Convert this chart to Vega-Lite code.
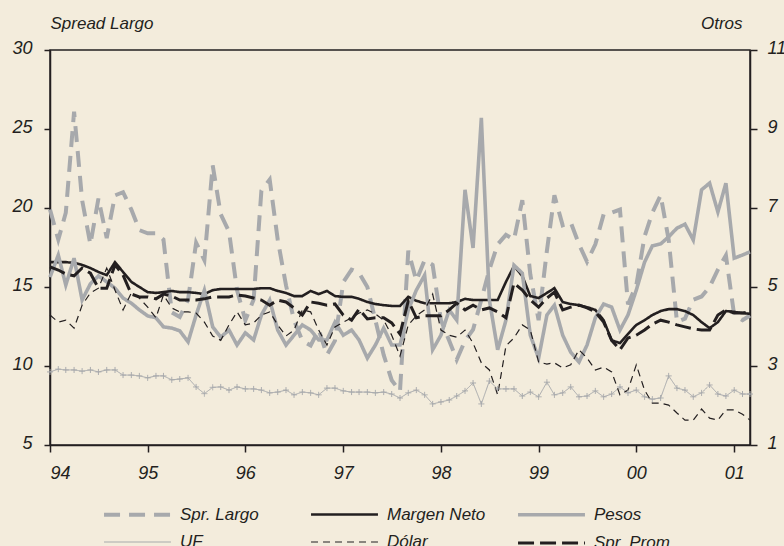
{
"$schema":"https://vega.github.io/schema/vega-lite/v6.json",
"width":700,"height":395,
"autosize":{"type":"none"},
"padding":{"left":50,"top":50,"right":34,"bottom":101},
"background":"#f3ecdc",
"config":{
 "view":{"stroke":"#231f20","strokeWidth":1.5},
 "font":"Liberation Sans",
 "axis":{"labelFont":"Liberation Sans","labelFontStyle":"italic","labelFontSize":18,"labelColor":"#231f20","domainColor":"#231f20","tickColor":"#231f20","domainWidth":1.5,"tickWidth":1.5,"grid":false,"titleFont":"Liberation Sans","titleFontStyle":"italic","titleFontWeight":"normal","titleFontSize":17,"titleColor":"#231f20"},
 "legend":{"orient":"none","direction":"horizontal","legendX":77,"legendY":454,"columns":3,"gridAlign":"all","columnPadding":24,"rowPadding":10,"symbolType":"M-4,0H4","symbolSize":280,"labelFont":"Liberation Sans","labelFontStyle":"italic","labelFontSize":17,"labelColor":"#231f20","labelOffset":32}
},
"data":{"values":[
{"d":"1994-01","s":"Spr. Largo","v":19.9},{"d":"1994-02","s":"Spr. Largo","v":18.0},{"d":"1994-03","s":"Spr. Largo","v":19.7},{"d":"1994-04","s":"Spr. Largo","v":26.1},{"d":"1994-05","s":"Spr. Largo","v":20.5},{"d":"1994-06","s":"Spr. Largo","v":17.7},{"d":"1994-07","s":"Spr. Largo","v":20.6},{"d":"1994-08","s":"Spr. Largo","v":18.1},{"d":"1994-09","s":"Spr. Largo","v":20.8},{"d":"1994-10","s":"Spr. Largo","v":21.0},{"d":"1994-11","s":"Spr. Largo","v":19.9},{"d":"1994-12","s":"Spr. Largo","v":18.6},
{"d":"1995-01","s":"Spr. Largo","v":18.4},{"d":"1995-02","s":"Spr. Largo","v":18.4},{"d":"1995-03","s":"Spr. Largo","v":18.0},{"d":"1995-04","s":"Spr. Largo","v":13.4},{"d":"1995-05","s":"Spr. Largo","v":13.1},{"d":"1995-06","s":"Spr. Largo","v":14.2},{"d":"1995-07","s":"Spr. Largo","v":17.8},{"d":"1995-08","s":"Spr. Largo","v":16.7},{"d":"1995-09","s":"Spr. Largo","v":22.7},{"d":"1995-10","s":"Spr. Largo","v":19.6},{"d":"1995-11","s":"Spr. Largo","v":18.5},{"d":"1995-12","s":"Spr. Largo","v":14.8},
{"d":"1996-01","s":"Spr. Largo","v":12.9},{"d":"1996-02","s":"Spr. Largo","v":14.2},{"d":"1996-03","s":"Spr. Largo","v":21.1},{"d":"1996-04","s":"Spr. Largo","v":21.8},{"d":"1996-05","s":"Spr. Largo","v":18.0},{"d":"1996-06","s":"Spr. Largo","v":15.1},{"d":"1996-07","s":"Spr. Largo","v":12.9},{"d":"1996-08","s":"Spr. Largo","v":11.6},{"d":"1996-09","s":"Spr. Largo","v":11.3},{"d":"1996-10","s":"Spr. Largo","v":12.3},{"d":"1996-11","s":"Spr. Largo","v":10.7},{"d":"1996-12","s":"Spr. Largo","v":11.6},
{"d":"1997-01","s":"Spr. Largo","v":15.3},{"d":"1997-02","s":"Spr. Largo","v":16.1},{"d":"1997-03","s":"Spr. Largo","v":15.9},{"d":"1997-04","s":"Spr. Largo","v":15.0},{"d":"1997-05","s":"Spr. Largo","v":12.9},{"d":"1997-06","s":"Spr. Largo","v":10.7},{"d":"1997-07","s":"Spr. Largo","v":9.1},{"d":"1997-08","s":"Spr. Largo","v":8.4},{"d":"1997-09","s":"Spr. Largo","v":17.3},{"d":"1997-10","s":"Spr. Largo","v":15.4},{"d":"1997-11","s":"Spr. Largo","v":16.7},{"d":"1997-12","s":"Spr. Largo","v":16.4},
{"d":"1998-01","s":"Spr. Largo","v":12.9},{"d":"1998-02","s":"Spr. Largo","v":11.6},{"d":"1998-03","s":"Spr. Largo","v":10.4},{"d":"1998-04","s":"Spr. Largo","v":11.6},{"d":"1998-05","s":"Spr. Largo","v":12.3},{"d":"1998-06","s":"Spr. Largo","v":14.2},{"d":"1998-07","s":"Spr. Largo","v":16.1},{"d":"1998-08","s":"Spr. Largo","v":17.7},{"d":"1998-09","s":"Spr. Largo","v":18.3},{"d":"1998-10","s":"Spr. Largo","v":18.0},{"d":"1998-11","s":"Spr. Largo","v":20.5},{"d":"1998-12","s":"Spr. Largo","v":15.8},
{"d":"1999-01","s":"Spr. Largo","v":12.9},{"d":"1999-02","s":"Spr. Largo","v":17.3},{"d":"1999-03","s":"Spr. Largo","v":20.8},{"d":"1999-04","s":"Spr. Largo","v":18.9},{"d":"1999-05","s":"Spr. Largo","v":19.1},{"d":"1999-06","s":"Spr. Largo","v":17.7},{"d":"1999-07","s":"Spr. Largo","v":16.6},{"d":"1999-08","s":"Spr. Largo","v":17.7},{"d":"1999-09","s":"Spr. Largo","v":19.6},{"d":"1999-10","s":"Spr. Largo","v":19.7},{"d":"1999-11","s":"Spr. Largo","v":19.9},{"d":"1999-12","s":"Spr. Largo","v":13.9},
{"d":"2000-01","s":"Spr. Largo","v":15.1},{"d":"2000-02","s":"Spr. Largo","v":18.2},{"d":"2000-03","s":"Spr. Largo","v":19.7},{"d":"2000-04","s":"Spr. Largo","v":20.8},{"d":"2000-05","s":"Spr. Largo","v":18.0},{"d":"2000-06","s":"Spr. Largo","v":12.8},{"d":"2000-07","s":"Spr. Largo","v":13.0},{"d":"2000-08","s":"Spr. Largo","v":14.2},{"d":"2000-09","s":"Spr. Largo","v":14.4},{"d":"2000-10","s":"Spr. Largo","v":15.0},{"d":"2000-11","s":"Spr. Largo","v":16.1},{"d":"2000-12","s":"Spr. Largo","v":17.0},
{"d":"2001-01","s":"Spr. Largo","v":13.2},{"d":"2001-02","s":"Spr. Largo","v":12.9},{"d":"2001-03","s":"Spr. Largo","v":13.2},
{"d":"1994-01","s":"Margen Neto","v":5.63},{"d":"1994-02","s":"Margen Neto","v":5.63},{"d":"1994-03","s":"Margen Neto","v":5.63},{"d":"1994-04","s":"Margen Neto","v":5.61},{"d":"1994-05","s":"Margen Neto","v":5.56},{"d":"1994-06","s":"Margen Neto","v":5.48},{"d":"1994-07","s":"Margen Neto","v":5.38},{"d":"1994-08","s":"Margen Neto","v":5.30},{"d":"1994-09","s":"Margen Neto","v":5.63},{"d":"1994-10","s":"Margen Neto","v":5.38},{"d":"1994-11","s":"Margen Neto","v":5.13},{"d":"1994-12","s":"Margen Neto","v":5.00},
{"d":"1995-01","s":"Margen Neto","v":4.87},{"d":"1995-02","s":"Margen Neto","v":4.85},{"d":"1995-03","s":"Margen Neto","v":4.87},{"d":"1995-04","s":"Margen Neto","v":4.90},{"d":"1995-05","s":"Margen Neto","v":4.87},{"d":"1995-06","s":"Margen Neto","v":4.87},{"d":"1995-07","s":"Margen Neto","v":4.85},{"d":"1995-08","s":"Margen Neto","v":4.82},{"d":"1995-09","s":"Margen Neto","v":4.92},{"d":"1995-10","s":"Margen Neto","v":4.95},{"d":"1995-11","s":"Margen Neto","v":4.95},{"d":"1995-12","s":"Margen Neto","v":4.95},
{"d":"1996-01","s":"Margen Neto","v":4.95},{"d":"1996-02","s":"Margen Neto","v":4.95},{"d":"1996-03","s":"Margen Neto","v":4.97},{"d":"1996-04","s":"Margen Neto","v":4.97},{"d":"1996-05","s":"Margen Neto","v":4.90},{"d":"1996-06","s":"Margen Neto","v":4.85},{"d":"1996-07","s":"Margen Neto","v":4.77},{"d":"1996-08","s":"Margen Neto","v":4.77},{"d":"1996-09","s":"Margen Neto","v":4.90},{"d":"1996-10","s":"Margen Neto","v":4.82},{"d":"1996-11","s":"Margen Neto","v":4.90},{"d":"1996-12","s":"Margen Neto","v":4.77},
{"d":"1997-01","s":"Margen Neto","v":4.75},{"d":"1997-02","s":"Margen Neto","v":4.75},{"d":"1997-03","s":"Margen Neto","v":4.70},{"d":"1997-04","s":"Margen Neto","v":4.62},{"d":"1997-05","s":"Margen Neto","v":4.57},{"d":"1997-06","s":"Margen Neto","v":4.54},{"d":"1997-07","s":"Margen Neto","v":4.52},{"d":"1997-08","s":"Margen Neto","v":4.52},{"d":"1997-09","s":"Margen Neto","v":4.75},{"d":"1997-10","s":"Margen Neto","v":4.65},{"d":"1997-11","s":"Margen Neto","v":4.59},{"d":"1997-12","s":"Margen Neto","v":4.59},
{"d":"1998-01","s":"Margen Neto","v":4.59},{"d":"1998-02","s":"Margen Neto","v":4.59},{"d":"1998-03","s":"Margen Neto","v":4.62},{"d":"1998-04","s":"Margen Neto","v":4.70},{"d":"1998-05","s":"Margen Neto","v":4.67},{"d":"1998-06","s":"Margen Neto","v":4.67},{"d":"1998-07","s":"Margen Neto","v":4.67},{"d":"1998-08","s":"Margen Neto","v":4.67},{"d":"1998-09","s":"Margen Neto","v":5.13},{"d":"1998-10","s":"Margen Neto","v":5.53},{"d":"1998-11","s":"Margen Neto","v":5.28},{"d":"1998-12","s":"Margen Neto","v":4.77},
{"d":"1999-01","s":"Margen Neto","v":4.72},{"d":"1999-02","s":"Margen Neto","v":4.85},{"d":"1999-03","s":"Margen Neto","v":4.97},{"d":"1999-04","s":"Margen Neto","v":4.62},{"d":"1999-05","s":"Margen Neto","v":4.57},{"d":"1999-06","s":"Margen Neto","v":4.54},{"d":"1999-07","s":"Margen Neto","v":4.49},{"d":"1999-08","s":"Margen Neto","v":4.42},{"d":"1999-09","s":"Margen Neto","v":4.16},{"d":"1999-10","s":"Margen Neto","v":3.65},{"d":"1999-11","s":"Margen Neto","v":3.58},{"d":"1999-12","s":"Margen Neto","v":3.81},
{"d":"2000-01","s":"Margen Neto","v":4.04},{"d":"2000-02","s":"Margen Neto","v":4.16},{"d":"2000-03","s":"Margen Neto","v":4.29},{"d":"2000-04","s":"Margen Neto","v":4.39},{"d":"2000-05","s":"Margen Neto","v":4.44},{"d":"2000-06","s":"Margen Neto","v":4.44},{"d":"2000-07","s":"Margen Neto","v":4.39},{"d":"2000-08","s":"Margen Neto","v":4.29},{"d":"2000-09","s":"Margen Neto","v":4.11},{"d":"2000-10","s":"Margen Neto","v":3.96},{"d":"2000-11","s":"Margen Neto","v":4.11},{"d":"2000-12","s":"Margen Neto","v":4.39},
{"d":"2001-01","s":"Margen Neto","v":4.37},{"d":"2001-02","s":"Margen Neto","v":4.34},{"d":"2001-03","s":"Margen Neto","v":4.32},
{"d":"1994-01","s":"Pesos","v":5.25},{"d":"1994-02","s":"Pesos","v":5.81},{"d":"1994-03","s":"Pesos","v":5.05},{"d":"1994-04","s":"Pesos","v":5.73},{"d":"1994-05","s":"Pesos","v":4.67},{"d":"1994-06","s":"Pesos","v":5.08},{"d":"1994-07","s":"Pesos","v":5.28},{"d":"1994-08","s":"Pesos","v":5.13},{"d":"1994-09","s":"Pesos","v":4.97},{"d":"1994-10","s":"Pesos","v":4.72},{"d":"1994-11","s":"Pesos","v":4.59},{"d":"1994-12","s":"Pesos","v":4.42},
{"d":"1995-01","s":"Pesos","v":4.27},{"d":"1995-02","s":"Pesos","v":4.22},{"d":"1995-03","s":"Pesos","v":3.99},{"d":"1995-04","s":"Pesos","v":3.96},{"d":"1995-05","s":"Pesos","v":3.89},{"d":"1995-06","s":"Pesos","v":3.61},{"d":"1995-07","s":"Pesos","v":4.29},{"d":"1995-08","s":"Pesos","v":4.92},{"d":"1995-09","s":"Pesos","v":3.99},{"d":"1995-10","s":"Pesos","v":3.73},{"d":"1995-11","s":"Pesos","v":3.91},{"d":"1995-12","s":"Pesos","v":3.53},
{"d":"1996-01","s":"Pesos","v":3.84},{"d":"1996-02","s":"Pesos","v":3.66},{"d":"1996-03","s":"Pesos","v":4.29},{"d":"1996-04","s":"Pesos","v":4.67},{"d":"1996-05","s":"Pesos","v":3.91},{"d":"1996-06","s":"Pesos","v":3.53},{"d":"1996-07","s":"Pesos","v":3.78},{"d":"1996-08","s":"Pesos","v":4.04},{"d":"1996-09","s":"Pesos","v":3.91},{"d":"1996-10","s":"Pesos","v":3.66},{"d":"1996-11","s":"Pesos","v":3.66},{"d":"1996-12","s":"Pesos","v":4.11},
{"d":"1997-01","s":"Pesos","v":3.78},{"d":"1997-02","s":"Pesos","v":3.91},{"d":"1997-03","s":"Pesos","v":3.66},{"d":"1997-04","s":"Pesos","v":3.20},{"d":"1997-05","s":"Pesos","v":3.53},{"d":"1997-06","s":"Pesos","v":3.96},{"d":"1997-07","s":"Pesos","v":3.53},{"d":"1997-08","s":"Pesos","v":3.53},{"d":"1997-09","s":"Pesos","v":4.42},{"d":"1997-10","s":"Pesos","v":4.92},{"d":"1997-11","s":"Pesos","v":5.30},{"d":"1997-12","s":"Pesos","v":3.41},
{"d":"1998-01","s":"Pesos","v":3.78},{"d":"1998-02","s":"Pesos","v":4.42},{"d":"1998-03","s":"Pesos","v":4.16},{"d":"1998-04","s":"Pesos","v":7.46},{"d":"1998-05","s":"Pesos","v":5.99},{"d":"1998-06","s":"Pesos","v":9.28},{"d":"1998-07","s":"Pesos","v":4.67},{"d":"1998-08","s":"Pesos","v":3.41},{"d":"1998-09","s":"Pesos","v":4.16},{"d":"1998-10","s":"Pesos","v":5.55},{"d":"1998-11","s":"Pesos","v":5.35},{"d":"1998-12","s":"Pesos","v":3.78},
{"d":"1999-01","s":"Pesos","v":3.20},{"d":"1999-02","s":"Pesos","v":4.29},{"d":"1999-03","s":"Pesos","v":4.54},{"d":"1999-04","s":"Pesos","v":3.78},{"d":"1999-05","s":"Pesos","v":3.35},{"d":"1999-06","s":"Pesos","v":3.10},{"d":"1999-07","s":"Pesos","v":3.53},{"d":"1999-08","s":"Pesos","v":4.22},{"d":"1999-09","s":"Pesos","v":4.57},{"d":"1999-10","s":"Pesos","v":4.49},{"d":"1999-11","s":"Pesos","v":3.91},{"d":"1999-12","s":"Pesos","v":4.29},
{"d":"2000-01","s":"Pesos","v":4.92},{"d":"2000-02","s":"Pesos","v":5.63},{"d":"2000-03","s":"Pesos","v":6.04},{"d":"2000-04","s":"Pesos","v":6.09},{"d":"2000-05","s":"Pesos","v":6.27},{"d":"2000-06","s":"Pesos","v":6.49},{"d":"2000-07","s":"Pesos","v":6.59},{"d":"2000-08","s":"Pesos","v":6.19},{"d":"2000-09","s":"Pesos","v":7.46},{"d":"2000-10","s":"Pesos","v":7.63},{"d":"2000-11","s":"Pesos","v":6.90},{"d":"2000-12","s":"Pesos","v":7.63},
{"d":"2001-01","s":"Pesos","v":5.73},{"d":"2001-02","s":"Pesos","v":5.81},{"d":"2001-03","s":"Pesos","v":5.89},
{"d":"1994-01","s":"UF","v":2.85},{"d":"1994-02","s":"UF","v":2.92},{"d":"1994-03","s":"UF","v":2.90},{"d":"1994-04","s":"UF","v":2.90},{"d":"1994-05","s":"UF","v":2.87},{"d":"1994-06","s":"UF","v":2.90},{"d":"1994-07","s":"UF","v":2.85},{"d":"1994-08","s":"UF","v":2.90},{"d":"1994-09","s":"UF","v":2.90},{"d":"1994-10","s":"UF","v":2.77},{"d":"1994-11","s":"UF","v":2.77},{"d":"1994-12","s":"UF","v":2.75},
{"d":"1995-01","s":"UF","v":2.70},{"d":"1995-02","s":"UF","v":2.75},{"d":"1995-03","s":"UF","v":2.75},{"d":"1995-04","s":"UF","v":2.65},{"d":"1995-05","s":"UF","v":2.67},{"d":"1995-06","s":"UF","v":2.70},{"d":"1995-07","s":"UF","v":2.47},{"d":"1995-08","s":"UF","v":2.30},{"d":"1995-09","s":"UF","v":2.46},{"d":"1995-10","s":"UF","v":2.47},{"d":"1995-11","s":"UF","v":2.39},{"d":"1995-12","s":"UF","v":2.47},
{"d":"1996-01","s":"UF","v":2.42},{"d":"1996-02","s":"UF","v":2.42},{"d":"1996-03","s":"UF","v":2.39},{"d":"1996-04","s":"UF","v":2.32},{"d":"1996-05","s":"UF","v":2.34},{"d":"1996-06","s":"UF","v":2.39},{"d":"1996-07","s":"UF","v":2.27},{"d":"1996-08","s":"UF","v":2.34},{"d":"1996-09","s":"UF","v":2.32},{"d":"1996-10","s":"UF","v":2.27},{"d":"1996-11","s":"UF","v":2.44},{"d":"1996-12","s":"UF","v":2.44},
{"d":"1997-01","s":"UF","v":2.37},{"d":"1997-02","s":"UF","v":2.34},{"d":"1997-03","s":"UF","v":2.34},{"d":"1997-04","s":"UF","v":2.34},{"d":"1997-05","s":"UF","v":2.32},{"d":"1997-06","s":"UF","v":2.34},{"d":"1997-07","s":"UF","v":2.29},{"d":"1997-08","s":"UF","v":2.19},{"d":"1997-09","s":"UF","v":2.32},{"d":"1997-10","s":"UF","v":2.39},{"d":"1997-11","s":"UF","v":2.27},{"d":"1997-12","s":"UF","v":2.04},
{"d":"1998-01","s":"UF","v":2.09},{"d":"1998-02","s":"UF","v":2.14},{"d":"1998-03","s":"UF","v":2.24},{"d":"1998-04","s":"UF","v":2.37},{"d":"1998-05","s":"UF","v":2.57},{"d":"1998-06","s":"UF","v":2.04},{"d":"1998-07","s":"UF","v":2.62},{"d":"1998-08","s":"UF","v":2.42},{"d":"1998-09","s":"UF","v":2.42},{"d":"1998-10","s":"UF","v":2.42},{"d":"1998-11","s":"UF","v":2.24},{"d":"1998-12","s":"UF","v":2.34},
{"d":"1999-01","s":"UF","v":2.22},{"d":"1999-02","s":"UF","v":2.59},{"d":"1999-03","s":"UF","v":2.27},{"d":"1999-04","s":"UF","v":2.32},{"d":"1999-05","s":"UF","v":2.47},{"d":"1999-06","s":"UF","v":2.22},{"d":"1999-07","s":"UF","v":2.24},{"d":"1999-08","s":"UF","v":2.37},{"d":"1999-09","s":"UF","v":2.22},{"d":"1999-10","s":"UF","v":2.29},{"d":"1999-11","s":"UF","v":2.47},{"d":"1999-12","s":"UF","v":2.32},
{"d":"2000-01","s":"UF","v":2.39},{"d":"2000-02","s":"UF","v":2.22},{"d":"2000-03","s":"UF","v":2.16},{"d":"2000-04","s":"UF","v":2.19},{"d":"2000-05","s":"UF","v":2.75},{"d":"2000-06","s":"UF","v":2.44},{"d":"2000-07","s":"UF","v":2.39},{"d":"2000-08","s":"UF","v":2.22},{"d":"2000-09","s":"UF","v":2.32},{"d":"2000-10","s":"UF","v":2.52},{"d":"2000-11","s":"UF","v":2.29},{"d":"2000-12","s":"UF","v":2.24},
{"d":"2001-01","s":"UF","v":2.39},{"d":"2001-02","s":"UF","v":2.29},{"d":"2001-03","s":"UF","v":2.29},
{"d":"1994-01","s":"Dólar","v":4.29},{"d":"1994-02","s":"Dólar","v":4.11},{"d":"1994-03","s":"Dólar","v":4.16},{"d":"1994-04","s":"Dólar","v":3.96},{"d":"1994-05","s":"Dólar","v":4.54},{"d":"1994-06","s":"Dólar","v":4.85},{"d":"1994-07","s":"Dólar","v":4.97},{"d":"1994-08","s":"Dólar","v":5.48},{"d":"1994-09","s":"Dólar","v":4.92},{"d":"1994-10","s":"Dólar","v":4.42},{"d":"1994-11","s":"Dólar","v":4.85},{"d":"1994-12","s":"Dólar","v":4.72},
{"d":"1995-01","s":"Dólar","v":4.49},{"d":"1995-02","s":"Dólar","v":4.22},{"d":"1995-03","s":"Dólar","v":4.80},{"d":"1995-04","s":"Dólar","v":4.47},{"d":"1995-05","s":"Dólar","v":4.37},{"d":"1995-06","s":"Dólar","v":4.37},{"d":"1995-07","s":"Dólar","v":4.34},{"d":"1995-08","s":"Dólar","v":4.11},{"d":"1995-09","s":"Dólar","v":3.76},{"d":"1995-10","s":"Dólar","v":3.65},{"d":"1995-11","s":"Dólar","v":4.04},{"d":"1995-12","s":"Dólar","v":4.37},
{"d":"1996-01","s":"Dólar","v":4.04},{"d":"1996-02","s":"Dólar","v":4.09},{"d":"1996-03","s":"Dólar","v":4.29},{"d":"1996-04","s":"Dólar","v":4.37},{"d":"1996-05","s":"Dólar","v":4.04},{"d":"1996-06","s":"Dólar","v":3.76},{"d":"1996-07","s":"Dólar","v":3.91},{"d":"1996-08","s":"Dólar","v":4.42},{"d":"1996-09","s":"Dólar","v":4.37},{"d":"1996-10","s":"Dólar","v":3.91},{"d":"1996-11","s":"Dólar","v":3.53},{"d":"1996-12","s":"Dólar","v":3.99},
{"d":"1997-01","s":"Dólar","v":4.11},{"d":"1997-02","s":"Dólar","v":4.22},{"d":"1997-03","s":"Dólar","v":4.34},{"d":"1997-04","s":"Dólar","v":4.42},{"d":"1997-05","s":"Dólar","v":4.32},{"d":"1997-06","s":"Dólar","v":4.16},{"d":"1997-07","s":"Dólar","v":3.78},{"d":"1997-08","s":"Dólar","v":3.25},{"d":"1997-09","s":"Dólar","v":4.04},{"d":"1997-10","s":"Dólar","v":4.27},{"d":"1997-11","s":"Dólar","v":4.42},{"d":"1997-12","s":"Dólar","v":4.82},
{"d":"1998-01","s":"Dólar","v":3.91},{"d":"1998-02","s":"Dólar","v":3.78},{"d":"1998-03","s":"Dólar","v":3.73},{"d":"1998-04","s":"Dólar","v":3.91},{"d":"1998-05","s":"Dólar","v":3.58},{"d":"1998-06","s":"Dólar","v":3.08},{"d":"1998-07","s":"Dólar","v":2.90},{"d":"1998-08","s":"Dólar","v":2.27},{"d":"1998-09","s":"Dólar","v":3.51},{"d":"1998-10","s":"Dólar","v":3.71},{"d":"1998-11","s":"Dólar","v":4.04},{"d":"1998-12","s":"Dólar","v":3.91},
{"d":"1999-01","s":"Dólar","v":3.10},{"d":"1999-02","s":"Dólar","v":3.05},{"d":"1999-03","s":"Dólar","v":3.08},{"d":"1999-04","s":"Dólar","v":2.95},{"d":"1999-05","s":"Dólar","v":3.03},{"d":"1999-06","s":"Dólar","v":3.41},{"d":"1999-07","s":"Dólar","v":3.20},{"d":"1999-08","s":"Dólar","v":2.90},{"d":"1999-09","s":"Dólar","v":2.97},{"d":"1999-10","s":"Dólar","v":2.85},{"d":"1999-11","s":"Dólar","v":2.27},{"d":"1999-12","s":"Dólar","v":2.39},
{"d":"2000-01","s":"Dólar","v":3.03},{"d":"2000-02","s":"Dólar","v":2.39},{"d":"2000-03","s":"Dólar","v":2.06},{"d":"2000-04","s":"Dólar","v":2.06},{"d":"2000-05","s":"Dólar","v":2.01},{"d":"2000-06","s":"Dólar","v":1.81},{"d":"2000-07","s":"Dólar","v":1.63},{"d":"2000-08","s":"Dólar","v":1.63},{"d":"2000-09","s":"Dólar","v":1.91},{"d":"2000-10","s":"Dólar","v":1.68},{"d":"2000-11","s":"Dólar","v":1.63},{"d":"2000-12","s":"Dólar","v":1.89},
{"d":"2001-01","s":"Dólar","v":1.89},{"d":"2001-02","s":"Dólar","v":1.78},{"d":"2001-03","s":"Dólar","v":1.63},
{"d":"1994-01","s":"Spr. Prom.","v":5.51},{"d":"1994-02","s":"Spr. Prom.","v":5.43},{"d":"1994-03","s":"Spr. Prom.","v":5.33},{"d":"1994-04","s":"Spr. Prom.","v":5.28},{"d":"1994-05","s":"Spr. Prom.","v":5.48},{"d":"1994-06","s":"Spr. Prom.","v":5.35},{"d":"1994-07","s":"Spr. Prom.","v":4.97},{"d":"1994-08","s":"Spr. Prom.","v":4.97},{"d":"1994-09","s":"Spr. Prom.","v":5.56},{"d":"1994-10","s":"Spr. Prom.","v":5.30},{"d":"1994-11","s":"Spr. Prom.","v":4.82},{"d":"1994-12","s":"Spr. Prom.","v":4.75},
{"d":"1995-01","s":"Spr. Prom.","v":4.75},{"d":"1995-02","s":"Spr. Prom.","v":4.70},{"d":"1995-03","s":"Spr. Prom.","v":4.82},{"d":"1995-04","s":"Spr. Prom.","v":4.77},{"d":"1995-05","s":"Spr. Prom.","v":4.67},{"d":"1995-06","s":"Spr. Prom.","v":4.67},{"d":"1995-07","s":"Spr. Prom.","v":4.67},{"d":"1995-08","s":"Spr. Prom.","v":4.70},{"d":"1995-09","s":"Spr. Prom.","v":4.75},{"d":"1995-10","s":"Spr. Prom.","v":4.75},{"d":"1995-11","s":"Spr. Prom.","v":4.75},{"d":"1995-12","s":"Spr. Prom.","v":4.80},
{"d":"1996-01","s":"Spr. Prom.","v":4.77},{"d":"1996-02","s":"Spr. Prom.","v":4.72},{"d":"1996-03","s":"Spr. Prom.","v":4.67},{"d":"1996-04","s":"Spr. Prom.","v":4.54},{"d":"1996-05","s":"Spr. Prom.","v":4.67},{"d":"1996-06","s":"Spr. Prom.","v":4.62},{"d":"1996-07","s":"Spr. Prom.","v":4.47},{"d":"1996-08","s":"Spr. Prom.","v":4.29},{"d":"1996-09","s":"Spr. Prom.","v":4.62},{"d":"1996-10","s":"Spr. Prom.","v":4.59},{"d":"1996-11","s":"Spr. Prom.","v":4.54},{"d":"1996-12","s":"Spr. Prom.","v":4.57},
{"d":"1997-01","s":"Spr. Prom.","v":4.29},{"d":"1997-02","s":"Spr. Prom.","v":4.16},{"d":"1997-03","s":"Spr. Prom.","v":4.44},{"d":"1997-04","s":"Spr. Prom.","v":4.19},{"d":"1997-05","s":"Spr. Prom.","v":4.22},{"d":"1997-06","s":"Spr. Prom.","v":4.22},{"d":"1997-07","s":"Spr. Prom.","v":4.09},{"d":"1997-08","s":"Spr. Prom.","v":3.81},{"d":"1997-09","s":"Spr. Prom.","v":4.65},{"d":"1997-10","s":"Spr. Prom.","v":4.22},{"d":"1997-11","s":"Spr. Prom.","v":4.27},{"d":"1997-12","s":"Spr. Prom.","v":4.27},
{"d":"1998-01","s":"Spr. Prom.","v":4.27},{"d":"1998-02","s":"Spr. Prom.","v":4.42},{"d":"1998-03","s":"Spr. Prom.","v":4.59},{"d":"1998-04","s":"Spr. Prom.","v":4.42},{"d":"1998-05","s":"Spr. Prom.","v":4.54},{"d":"1998-06","s":"Spr. Prom.","v":4.42},{"d":"1998-07","s":"Spr. Prom.","v":4.47},{"d":"1998-08","s":"Spr. Prom.","v":4.37},{"d":"1998-09","s":"Spr. Prom.","v":4.22},{"d":"1998-10","s":"Spr. Prom.","v":5.10},{"d":"1998-11","s":"Spr. Prom.","v":4.92},{"d":"1998-12","s":"Spr. Prom.","v":4.67},
{"d":"1999-01","s":"Spr. Prom.","v":4.49},{"d":"1999-02","s":"Spr. Prom.","v":4.72},{"d":"1999-03","s":"Spr. Prom.","v":4.87},{"d":"1999-04","s":"Spr. Prom.","v":4.42},{"d":"1999-05","s":"Spr. Prom.","v":4.49},{"d":"1999-06","s":"Spr. Prom.","v":4.54},{"d":"1999-07","s":"Spr. Prom.","v":4.47},{"d":"1999-08","s":"Spr. Prom.","v":4.37},{"d":"1999-09","s":"Spr. Prom.","v":4.11},{"d":"1999-10","s":"Spr. Prom.","v":3.65},{"d":"1999-11","s":"Spr. Prom.","v":3.41},{"d":"1999-12","s":"Spr. Prom.","v":3.71},
{"d":"2000-01","s":"Spr. Prom.","v":3.78},{"d":"2000-02","s":"Spr. Prom.","v":3.91},{"d":"2000-03","s":"Spr. Prom.","v":4.06},{"d":"2000-04","s":"Spr. Prom.","v":4.16},{"d":"2000-05","s":"Spr. Prom.","v":4.11},{"d":"2000-06","s":"Spr. Prom.","v":4.04},{"d":"2000-07","s":"Spr. Prom.","v":3.99},{"d":"2000-08","s":"Spr. Prom.","v":3.94},{"d":"2000-09","s":"Spr. Prom.","v":3.91},{"d":"2000-10","s":"Spr. Prom.","v":3.91},{"d":"2000-11","s":"Spr. Prom.","v":4.29},{"d":"2000-12","s":"Spr. Prom.","v":4.42},
{"d":"2001-01","s":"Spr. Prom.","v":4.34},{"d":"2001-02","s":"Spr. Prom.","v":4.34},{"d":"2001-03","s":"Spr. Prom.","v":4.37}
]},
"encoding":{
 "x":{"field":"d","type":"temporal","scale":{"type":"utc","domain":["1994-01-01","2001-03-01"]},"axis":{"title":null,"format":"%y","tickCount":{"interval":"year","step":1},"tickSize":7,"labelPadding":12,"labelAngle":0}},
 "color":{"field":"s","type":"nominal","scale":{"domain":["Spr. Largo","Margen Neto","Pesos","UF","Dólar","Spr. Prom."],"range":["#a7a9ac","#231f20","#a7a9ac","#a7a9ac","#231f20","#231f20"]},"legend":{"title":null}},
 "strokeDash":{"field":"s","type":"nominal","scale":{"domain":["Spr. Largo","Margen Neto","Pesos","UF","Dólar","Spr. Prom."],"range":[[16,9],[1,0],[1,0],[1,0],[7,5],[16,6]]},"legend":{"title":null}},
 "strokeWidth":{"field":"s","type":"nominal","scale":{"type":"ordinal","domain":["Spr. Largo","Margen Neto","Pesos","UF","Dólar","Spr. Prom."],"range":[4,2.6,3.6,1,1.2,3]},"legend":{"title":null}}
},
"layer":[
 {"transform":[{"filter":"datum.s == 'Spr. Largo'"}],
  "mark":{"type":"line","strokeCap":"butt"},
  "encoding":{"y":{"field":"v","type":"quantitative","scale":{"domain":[5,30],"nice":false,"zero":false},"axis":{"orient":"left","values":[5,10,15,20,25,30],"title":"Spread Largo","titleAngle":0,"titleAlign":"left","titleBaseline":"middle","titleX":0,"titleY":-27,"tickSize":6,"labelPadding":12,"labelOffset":-2}}}},
 {"encoding":{"y":{"field":"v","type":"quantitative","scale":{"domain":[1,11],"nice":false,"zero":false},"axis":{"orient":"right","values":[1,3,5,7,9,11],"title":"Otros","titleAngle":0,"titleAlign":"right","titleBaseline":"middle","titleX":-8,"titleY":-27,"tickSize":7,"labelPadding":10,"labelOffset":-2}}},
  "layer":[
   {"transform":[{"filter":"datum.s != 'Spr. Largo'"}],"mark":{"type":"line","strokeCap":"butt"}},
   {"transform":[{"filter":"datum.s == 'UF'"}],"mark":{"type":"point","shape":"M-1,0H1M0,-1V1","size":36,"filled":false,"stroke":"#a7a9ac","strokeWidth":1,"opacity":1},"encoding":{"color":{"value":"#a7a9ac"},"strokeDash":{"value":[1,0]},"strokeWidth":{"value":1}}}
  ]}
],
"resolve":{"scale":{"y":"independent"}}
}
